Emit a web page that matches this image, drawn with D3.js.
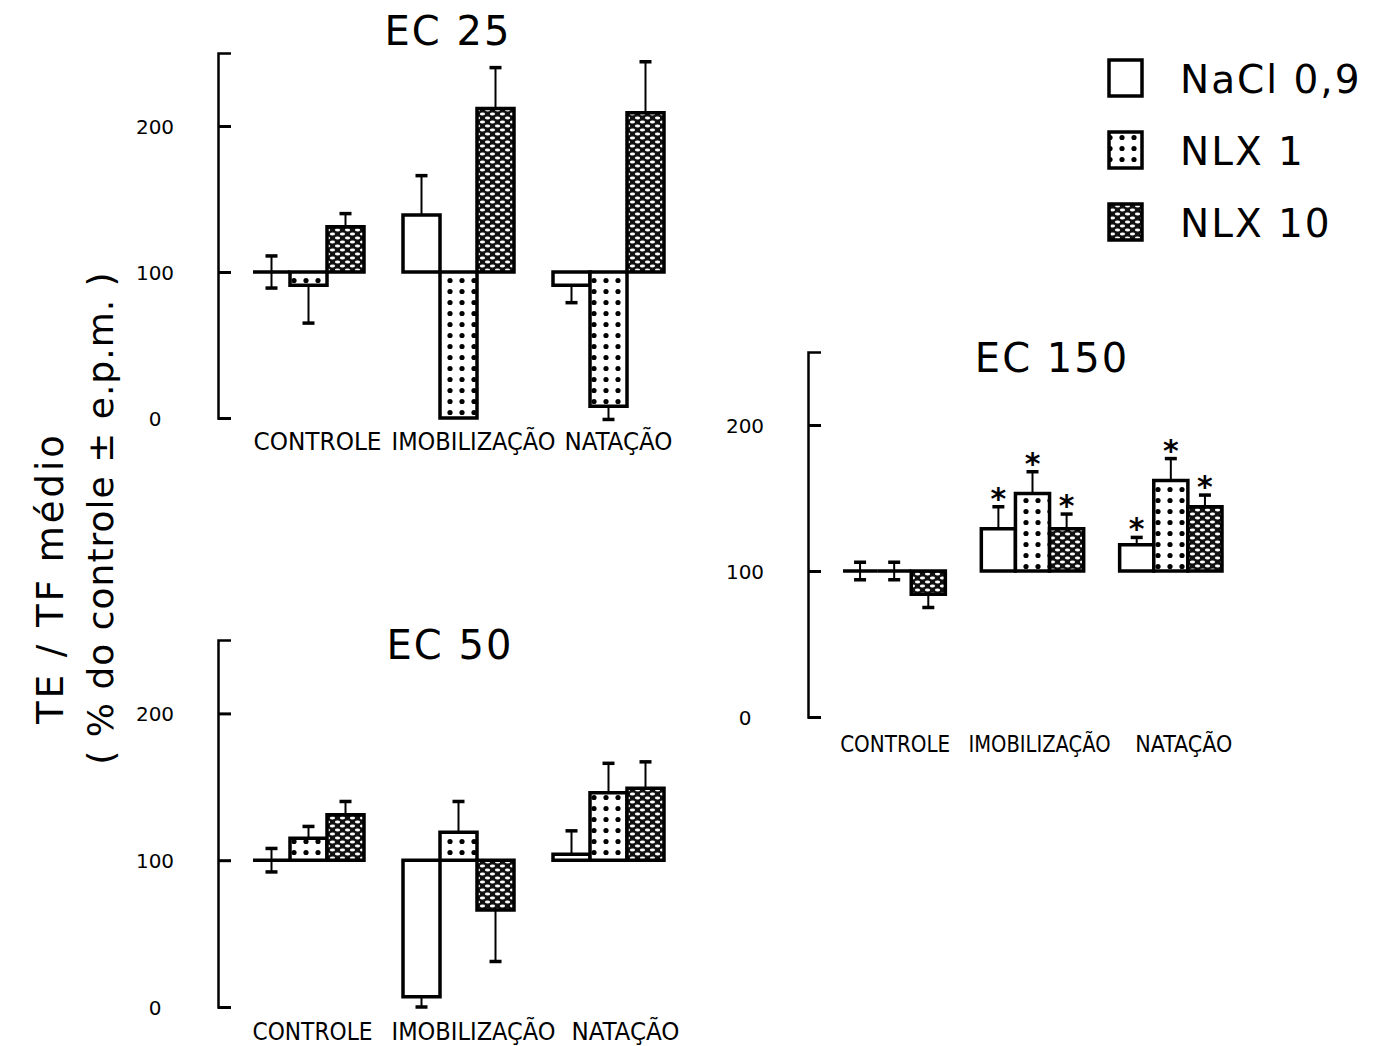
<!DOCTYPE html>
<html>
<head>
<meta charset="utf-8">
<script src="https://cdn.jsdelivr.net/npm/d3@7"></script>
<style>
  body { margin: 0; background: #fff; }
  svg { display: block; }
  text { fill: #000; }
</style>
</head>
<body>
<svg id="chart"></svg>
<script>
// chart data
const categories = ['CONTROLE', 'IMOBILIZAÇÃO', 'NATAÇÃO'];
const treatments = ['NaCl 0,9', 'NLX 1', 'NLX 10'];
const yTicks = [0, 100, 200];
const yMax = 250;

const ec25Means = [[100, 91, 131], [139, 0, 212], [91, 8, 209]];
const ec25Errors = [[11, 26, 9], [27, 0, 28], [12, 9, 35]];

const ec50Means = [[100, 115, 131], [7, 119, 66], [104, 146, 149]];
const ec50Errors = [[8, 8, 9], [7, 21, 35], [16, 20, 18]];

const ec150Means = [[100, 100, 84], [129, 153, 129], [118, 162, 144]];
const ec150Errors = [[6, 6, 9], [15, 15, 10], [5, 15, 8]];
const ec150Stars = [[0, 0, 0], [1, 1, 1], [1, 1, 1]];

const yLabel1 = 'TE / TF médio';
const yLabel2 = '( %  do controle ± e.p.m. )';

const W = 1378, H = 1046;
const svg = d3.select('#chart').attr('width', W).attr('height', H);
svg.append('rect').attr('width', W).attr('height', H).attr('fill', '#fff');

// fill patterns for the three treatments
const defs = svg.append('defs');
const light = defs.append('pattern').attr('id', 'dots-light')
  .attr('patternUnits', 'userSpaceOnUse').attr('width', 12).attr('height', 11);
light.append('rect').attr('width', 12).attr('height', 11).attr('fill', '#fff');
light.append('circle').attr('cx', 6).attr('cy', 5.5).attr('r', 2.6).attr('fill', '#000');

const dense = defs.append('pattern').attr('id', 'dots-dense')
  .attr('patternUnits', 'userSpaceOnUse').attr('width', 10).attr('height', 8);
dense.append('rect').attr('width', 10).attr('height', 8).attr('fill', '#111');
dense.append('ellipse').attr('cx', 2.5).attr('cy', 2).attr('rx', 2.6).attr('ry', 1.4).attr('fill', '#fff');
dense.append('ellipse').attr('cx', 7.5).attr('cy', 6).attr('rx', 2.6).attr('ry', 1.4).attr('fill', '#fff');

const fills = ['#fff', 'url(#dots-light)', 'url(#dots-dense)'];

const panels = [
  { title: 'EC 25', means: ec25Means, errors: ec25Errors, stars: null,
    axisX: 218, yBottom: 418, yTop: 53, xRange: [253, 664],
    titleX: 448, titleY: 45, labelY: 450, labelSize: 25, labelWidths: [128, 164, 108], labelShift: [9, 15, 10] },
  { title: 'EC 50', means: ec50Means, errors: ec50Errors, stars: null,
    axisX: 218, yBottom: 1007, yTop: 640, xRange: [253, 664],
    titleX: 450, titleY: 659, labelY: 1040, labelSize: 25, labelWidths: [120, 164, 108], labelShift: [4, 15, 17] },
  { title: 'EC 150', means: ec150Means, errors: ec150Errors, stars: ec150Stars,
    axisX: 808, yBottom: 717, yTop: 352, xRange: [843, 1222],
    titleX: 1052, titleY: 372, labelY: 752, labelSize: 23, labelWidths: [110, 142, 97], labelShift: [1, 7, 13] }
];

panels.forEach(p => {
  const g = svg.append('g');

  const y = d3.scaleLinear().domain([0, yMax]).range([p.yBottom, p.yTop]);
  const x0 = d3.scaleBand().domain(categories).range(p.xRange).paddingInner(0.26).paddingOuter(0);
  const x1 = d3.scaleBand().domain(treatments).range([0, x0.bandwidth()]);

  // bracket-shaped axis, ticks pointing inward
  const axis = g.append('g')
    .attr('transform', `translate(${p.axisX},0)`)
    .call(d3.axisLeft(y).tickValues(yTicks).tickSizeInner(-13).tickSizeOuter(-13).tickFormat(d3.format('d')));
  axis.select('.domain').attr('stroke', '#000').attr('stroke-width', 2.5).attr('fill', 'none');
  axis.selectAll('.tick line').attr('stroke', '#000').attr('stroke-width', 3);
  axis.selectAll('.tick text')
    .attr('x', -63).attr('dy', '0.35em')
    .attr('text-anchor', 'middle')
    .style('font-family', 'DejaVu Sans, sans-serif')
    .style('font-size', '20px');

  // title
  g.append('text')
    .attr('x', p.titleX).attr('y', p.titleY)
    .attr('text-anchor', 'middle')
    .style('font-family', 'DejaVu Sans, sans-serif')
    .style('font-size', '40px')
    .style('letter-spacing', '2px')
    .text(p.title);

  // category labels
  g.selectAll('.cat')
    .data(categories)
    .join('text')
    .attr('class', 'cat')
    .attr('x', (d, i) => x0(d) + x0.bandwidth() / 2 + p.labelShift[i] - p.labelWidths[i] / 2)
    .attr('y', p.labelY)
    .attr('textLength', (d, i) => p.labelWidths[i])
    .attr('lengthAdjust', 'spacingAndGlyphs')
    .style('font-family', 'DejaVu Sans Condensed, DejaVu Sans, sans-serif')
    .style('font-size', p.labelSize + 'px')
    .text(d => d);

  const rows = [];
  categories.forEach((c, ci) => {
    treatments.forEach((t, ti) => {
      rows.push({ cat: c, trt: t, ti, mean: p.means[ci][ti], err: p.errors[ci][ti],
        star: p.stars ? p.stars[ci][ti] : 0 });
    });
  });

  const bx = d => x0(d.cat) + x1(d.trt);
  const base = y(100);

  // error bars (drawn under the bars)
  const eg = g.append('g');
  rows.filter(d => d.err > 0).forEach(d => {
    const cx = bx(d) + x1.bandwidth() / 2;
    const ends = [];
    if (d.mean === 100) ends.push(d.mean + d.err, d.mean - d.err);
    else if (d.mean > 100) ends.push(d.mean + d.err);
    else ends.push(d.mean - d.err);
    ends.forEach(v => {
      eg.append('line')
        .attr('x1', cx).attr('x2', cx)
        .attr('y1', y(d.mean)).attr('y2', y(v))
        .attr('stroke', '#000').attr('stroke-width', 2);
      eg.append('line')
        .attr('x1', cx - 6).attr('x2', cx + 6)
        .attr('y1', y(v)).attr('y2', y(v))
        .attr('stroke', '#000').attr('stroke-width', 3.5);
    });
  });

  // bars from the 100 % baseline
  g.selectAll('.bar')
    .data(rows)
    .join('path')
    .attr('class', 'bar')
    .attr('d', d => {
      const xl = bx(d), xr = bx(d) + x1.bandwidth(), yv = y(d.mean);
      return `M${xl},${base}V${yv}H${xr}V${base}Z`;
    })
    .attr('fill', d => fills[d.ti])
    .attr('stroke', '#000')
    .attr('stroke-width', 3.5)
    .attr('stroke-linejoin', 'miter');

  // significance stars
  g.selectAll('.star')
    .data(rows.filter(d => d.star))
    .join('text')
    .attr('class', 'star')
    .attr('x', d => bx(d) + x1.bandwidth() / 2)
    .attr('y', d => y(d.mean + d.err) + 2)
    .attr('text-anchor', 'middle')
    .style('font-family', 'DejaVu Sans, sans-serif')
    .style('font-weight', 'bold')
    .style('font-size', '30px')
    .text('*');
});

// legend
const lg = svg.append('g');
const legendY = d3.scalePoint().domain(treatments).range([78, 222]);
lg.selectAll('rect')
  .data(treatments)
  .join('rect')
  .attr('x', 1109).attr('y', d => legendY(d) - 18)
  .attr('width', 33).attr('height', 36)
  .attr('fill', (d, i) => fills[i])
  .attr('stroke', '#000').attr('stroke-width', 3.5);
lg.selectAll('text')
  .data(treatments)
  .join('text')
  .attr('x', 1180).attr('y', d => legendY(d) + 15)
  .style('font-family', 'DejaVu Sans, sans-serif')
  .style('font-size', '39px')
  .style('letter-spacing', '2px')
  .text(d => d);

// y axis title, two rotated lines
svg.append('text')
  .attr('transform', 'translate(63,578) rotate(-90)')
  .attr('text-anchor', 'middle')
  .style('font-family', 'DejaVu Sans, sans-serif')
  .style('font-size', '37px')
  .style('letter-spacing', '3px')
  .text(yLabel1);
svg.append('text')
  .attr('transform', 'translate(113,518) rotate(-90)')
  .attr('text-anchor', 'middle')
  .style('font-family', 'DejaVu Sans, sans-serif')
  .style('font-size', '36px')
  .style('letter-spacing', '1px')
  .text(yLabel2);
</script>
</body>
</html>
